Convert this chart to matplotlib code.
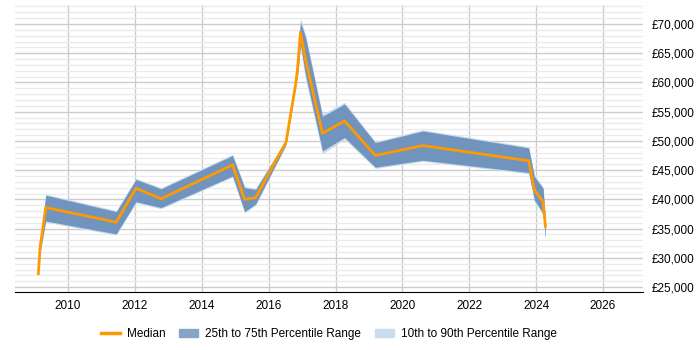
import numpy as np
import matplotlib as mpl
mpl.use('Agg')
import matplotlib.pyplot as plt
from matplotlib.patches import Patch
from matplotlib.lines import Line2D
from matplotlib.ticker import FuncFormatter, MultipleLocator

plt.rcParams['font.family'] = ['Liberation Sans', 'DejaVu Sans']

# decimal years
years = [2009.11, 2009.16, 2009.33, 2011.44, 2012.03, 2012.78, 2014.92, 2015.28,
         2015.61, 2016.52, 2016.81, 2016.87, 2016.95, 2017.10, 2017.61, 2018.27,
         2019.19, 2020.61, 2023.78, 2023.95, 2024.21, 2024.28]
median = [27300, 31700, 38600, 36100, 41900, 40100, 45900, 40000,
          40300, 49800, 59800, 62700, 68600, 64000, 51300, 53400,
          47500, 49200, 46600, 41600, 39600, 35400]
p25 = [27000, 31000, 36300, 34100, 39600, 38600, 44000, 37900,
       39200, 49400, 59500, 61500, 66500, 61300, 48300, 50600,
       45500, 46700, 44600, 39900, 37600, 33400]
p75 = [27600, 32600, 40700, 37900, 43400, 41800, 47500, 42000,
       41700, 50100, 60300, 64500, 70300, 67800, 54200, 56300,
       49700, 51700, 48800, 43900, 41900, 36500]
p10 = [26800, 30700, 36100, 33900, 39400, 38400, 43800, 37700,
       39000, 49200, 59200, 61200, 65900, 60700, 47800, 50300,
       45300, 46500, 44400, 39600, 37300, 32900]
p90 = [27800, 32900, 40900, 38100, 43600, 42000, 47700, 42200,
       41900, 50300, 60600, 65000, 71000, 68300, 54600, 56600,
       49900, 51900, 49000, 44100, 42100, 37000]

fig = plt.figure(figsize=(7, 3.5), dpi=100)
ax = fig.add_axes([0.0214, 0.1657, 0.8972, 0.82])

ax.fill_between(years, p10, p90, color='#c6d9ee', lw=0)
ax.fill_between(years, p25, p75, color='#7094be', lw=0)
ax.plot(years, median, color='#ff9900', lw=2)

ax.set_xlim(2008.41, 2027.2)
ax.set_ylim(24150, 73250)
ax.xaxis.set_major_locator(MultipleLocator(2))
ax.yaxis.set_major_locator(MultipleLocator(5000))
ax.yaxis.set_minor_locator(MultipleLocator(1000))
ax.yaxis.set_major_formatter(FuncFormatter(lambda v, p: '£{:,.0f}'.format(v)))
ax.yaxis.tick_right()
ax.tick_params(axis='y', which='both', length=0, labelsize=8.5, pad=6)
ax.tick_params(axis='x', length=0, labelsize=8.5, pad=6)

ax.grid(axis='y', which='major', color='#cccccc', lw=1)
ax.grid(axis='y', which='minor', color='#ebebeb', lw=1)
ax.grid(axis='x', which='major', color='#cccccc', lw=1)
ax.set_axisbelow(True)
for s in ['top', 'left', 'right']:
    ax.spines[s].set_visible(False)
ax.spines['bottom'].set_color('black')

handles = [Line2D([], [], color='#ff9900', lw=2.5),
           Patch(color='#86a4c7'),
           Patch(color='#c9dcee')]
labels = ['Median', '25th to 75th Percentile Range', '10th to 90th Percentile Range']
fig.legend(handles, labels, loc='center', bbox_to_anchor=(329 / 700, 1 - 334 / 350),
           ncol=3, frameon=False, fontsize=8.5, handlelength=1.6, columnspacing=1.2,
           handletextpad=0.6)

fig.savefig('out.png', dpi=100)
